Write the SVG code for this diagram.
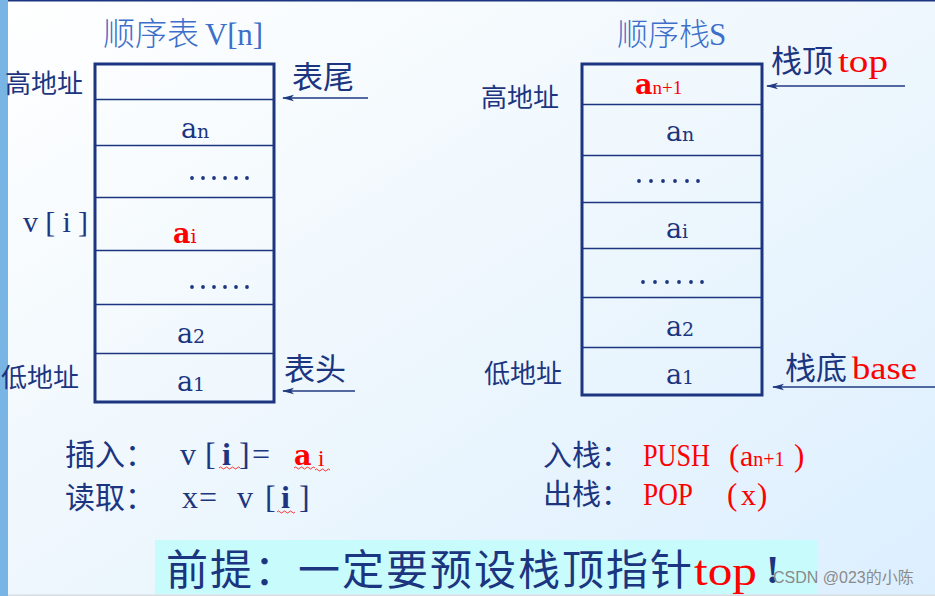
<svg xmlns="http://www.w3.org/2000/svg" width="935" height="596" viewBox="0 0 935 596">
<defs>
<linearGradient id="bg" x1="0" y1="0" x2="1" y2="1">
<stop offset="0" stop-color="#ffffff"/>
<stop offset="0.5" stop-color="#eef7fd"/>
<stop offset="1" stop-color="#dcefff"/>
</linearGradient>
<marker id="ah" viewBox="0 0 12 8" refX="11" refY="4" markerWidth="12" markerHeight="8" markerUnits="userSpaceOnUse" orient="auto">
<path d="M0,0.8 L12,4 L0,7.2 L3,4 Z" fill="#1f3a80"/>
</marker>
</defs>
<style>
.cj{font-family:"Noto Sans CJK SC",sans-serif;fill:#1c3580}
.ser{font-family:"Liberation Serif","Noto Sans CJK SC",serif;fill:#1c3580}
.h{fill:#3d6fca}
.a{font-family:"DejaVu Serif","Liberation Serif",serif;fill:#1c3580;font-size:27px}
.s{font-size:19px}
.r{fill:#ff0000}
.box{fill:none;stroke:#1c3580;stroke-width:3}
.row{stroke:#1c3580;stroke-width:1.3}
.dot{fill:#1c3580}
.arr{stroke:#1f3a80;stroke-width:1.5;fill:none}
.sq{fill:none;stroke:#ff2020;stroke-width:0.9}
</style>
<rect width="935" height="596" fill="url(#bg)"/>
<rect x="0" y="0" width="8" height="596" fill="#78b4e4"/>
<rect x="8" y="0" width="927" height="1.5" fill="#1c3580"/>
<rect x="8" y="594.5" width="927" height="1.5" fill="#d8dde2"/>

<g id="table">
<text class="cj h" x="103" y="45" font-size="32" font-weight="300">顺序表</text>
<text class="ser h" x="205" y="45" font-size="31" textLength="58" lengthAdjust="spacing">V[n]</text>
<rect class="box" x="95" y="64" width="179" height="338"/>
<line class="row" x1="95" y1="99.5" x2="274" y2="99.5"/>
<line class="row" x1="95" y1="145.5" x2="274" y2="145.5"/>
<line class="row" x1="95" y1="197.5" x2="274" y2="197.5"/>
<line class="row" x1="95" y1="250.5" x2="274" y2="250.5"/>
<line class="row" x1="95" y1="304.5" x2="274" y2="304.5"/>
<line class="row" x1="95" y1="353.5" x2="274" y2="353.5"/>
<text class="a" x="181" y="138">a<tspan class="s">n</tspan></text>
<g class="dot"><circle cx="192" cy="178" r="1.9"/><circle cx="203" cy="178" r="1.9"/><circle cx="214" cy="178" r="1.9"/><circle cx="225" cy="178" r="1.9"/><circle cx="236" cy="178" r="1.9"/><circle cx="247" cy="178" r="1.9"/></g>
<text class="a" x="173" y="243" font-weight="bold" style="fill:#ff0000">a<tspan class="s" font-weight="normal">i</tspan></text>
<g class="dot"><circle cx="192" cy="287" r="1.9"/><circle cx="203" cy="287" r="1.9"/><circle cx="214" cy="287" r="1.9"/><circle cx="225" cy="287" r="1.9"/><circle cx="236" cy="287" r="1.9"/><circle cx="247" cy="287" r="1.9"/></g>
<text class="a" x="177" y="343">a<tspan class="s">2</tspan></text>
<text class="a" x="177" y="391">a<tspan class="s">1</tspan></text>
<text class="cj" x="5" y="93" font-size="26">高地址</text>
<text class="ser" x="23" y="232" font-size="30" textLength="65" lengthAdjust="spacing">v[i]</text>
<text class="cj" x="1" y="387" font-size="26">低地址</text>
<text class="cj" x="292" y="88" font-size="31">表尾</text>
<text class="cj" x="284" y="380" font-size="31">表头</text>
</g>

<g id="stack">
<text class="cj h" x="617" y="45" font-size="31" font-weight="300">顺序栈</text>
<text class="ser h" x="709" y="45" font-size="31">S</text>
<rect class="box" x="582" y="64" width="180" height="331"/>
<line class="row" x1="582" y1="104.5" x2="762" y2="104.5"/>
<line class="row" x1="582" y1="155.5" x2="762" y2="155.5"/>
<line class="row" x1="582" y1="202.5" x2="762" y2="202.5"/>
<line class="row" x1="582" y1="248.5" x2="762" y2="248.5"/>
<line class="row" x1="582" y1="297.5" x2="762" y2="297.5"/>
<line class="row" x1="582" y1="347.5" x2="762" y2="347.5"/>
<text class="a" x="635" y="94" font-weight="bold" style="fill:#ff0000">a<tspan class="s" font-weight="normal" font-family="Liberation Serif" font-size="21">n+1</tspan></text>
<text class="a" x="666" y="141">a<tspan class="s">n</tspan></text>
<g class="dot"><circle cx="639" cy="181" r="1.9"/><circle cx="651" cy="181" r="1.9"/><circle cx="663" cy="181" r="1.9"/><circle cx="675" cy="181" r="1.9"/><circle cx="687" cy="181" r="1.9"/><circle cx="698" cy="181" r="1.9"/></g>
<text class="a" x="666" y="238">a<tspan class="s">i</tspan></text>
<g class="dot"><circle cx="643" cy="282" r="1.9"/><circle cx="655" cy="282" r="1.9"/><circle cx="667" cy="282" r="1.9"/><circle cx="679" cy="282" r="1.9"/><circle cx="691" cy="282" r="1.9"/><circle cx="702" cy="282" r="1.9"/></g>
<text class="a" x="666" y="336">a<tspan class="s">2</tspan></text>
<text class="a" x="666" y="384">a<tspan class="s">1</tspan></text>
<text class="cj" x="481" y="107" font-size="26">高地址</text>
<text class="cj" x="484" y="383" font-size="26">低地址</text>
<text class="cj" x="771" y="72" font-size="31">栈顶</text>
<text class="ser r" x="838" y="72" font-size="31" textLength="50" lengthAdjust="spacingAndGlyphs">top</text>
<text class="cj" x="785" y="379" font-size="31">栈底</text>
<text class="ser r" x="852" y="379" font-size="31" textLength="65" lengthAdjust="spacingAndGlyphs">base</text>
</g>

<g id="connectors">
<line class="arr" x1="368" y1="98" x2="283" y2="98" marker-end="url(#ah)"/>
<line class="arr" x1="355" y1="391" x2="283" y2="391" marker-end="url(#ah)"/>
<line class="arr" x1="905" y1="86" x2="767" y2="86" marker-end="url(#ah)"/>
<line class="arr" x1="935" y1="387" x2="773" y2="387" marker-end="url(#ah)"/>
</g>

<g id="ops">
<text class="cj" x="65" y="465" font-size="30">插入：</text>
<text class="ser" y="465" font-size="32"><tspan x="180">v</tspan><tspan x="205">[</tspan><tspan x="222" font-weight="bold">i</tspan><tspan x="239">]</tspan><tspan x="252">=</tspan></text>
<text class="a" x="294" y="465" font-size="30" font-weight="bold" style="fill:#ff0000">a</text>
<text class="ser r" x="318" y="466" font-size="23">i</text>
<path class="sq" d="M219,468 q1.5,-2 3,0 t3,0 t3,0 t3,0 t3,0 t3,0 t3,0"/>
<path class="sq" d="M294,468 q1.5,-2 3,0 t3,0 t3,0 t3,0 t3,0 t3,0 t3,0"/>
<path class="sq" d="M315,470 q1.5,-2 3,0 t3,0 t3,0 t3,0 t3,0"/>
<text class="cj" x="65" y="508" font-size="30">读取：</text>
<text class="ser" y="508" font-size="32"><tspan x="182">x</tspan><tspan x="199">=</tspan><tspan x="237">v</tspan><tspan x="265">[</tspan><tspan x="281" font-weight="bold">i</tspan><tspan x="299">]</tspan></text>
<path class="sq" d="M277,512 q1.5,-2 3,0 t3,0 t3,0 t3,0 t3,0 t3,0"/>
<text class="cj" x="543" y="466" font-size="29">入栈：</text>
<text class="ser r" x="643" y="466" font-size="31" textLength="67" lengthAdjust="spacingAndGlyphs">PUSH</text>
<text class="ser r" x="729" y="466" font-size="31">(</text>
<text class="ser r" x="740" y="466" font-size="30">a<tspan font-size="20">n+1</tspan></text>
<text class="ser r" x="794" y="466" font-size="31">)</text>
<text class="cj" x="543" y="505" font-size="29">出栈：</text>
<text class="ser r" x="643" y="505" font-size="31" textLength="50" lengthAdjust="spacingAndGlyphs">POP</text>
<text class="ser r" x="727" y="505" font-size="31">(</text>
<text class="ser r" x="741" y="505" font-size="30">x</text>
<text class="ser r" x="757" y="505" font-size="31">)</text>
</g>

<g id="premise">
<rect x="155" y="540" width="663" height="54" fill="#c8fcfc"/>
<text class="cj" x="166" y="585" font-size="42" textLength="526" lengthAdjust="spacing">前提：一定要预设栈顶指针</text>
<text class="ser r" x="694" y="585" font-size="42" textLength="63" lengthAdjust="spacingAndGlyphs">top</text>
<text class="ser" x="766" y="583" font-size="40" font-weight="bold">!</text>
</g>
<text x="773" y="583" font-family="Liberation Sans,Noto Sans CJK SC,sans-serif" font-size="16" fill="#8a8a8a">CSDN @023的小陈</text>
</svg>
